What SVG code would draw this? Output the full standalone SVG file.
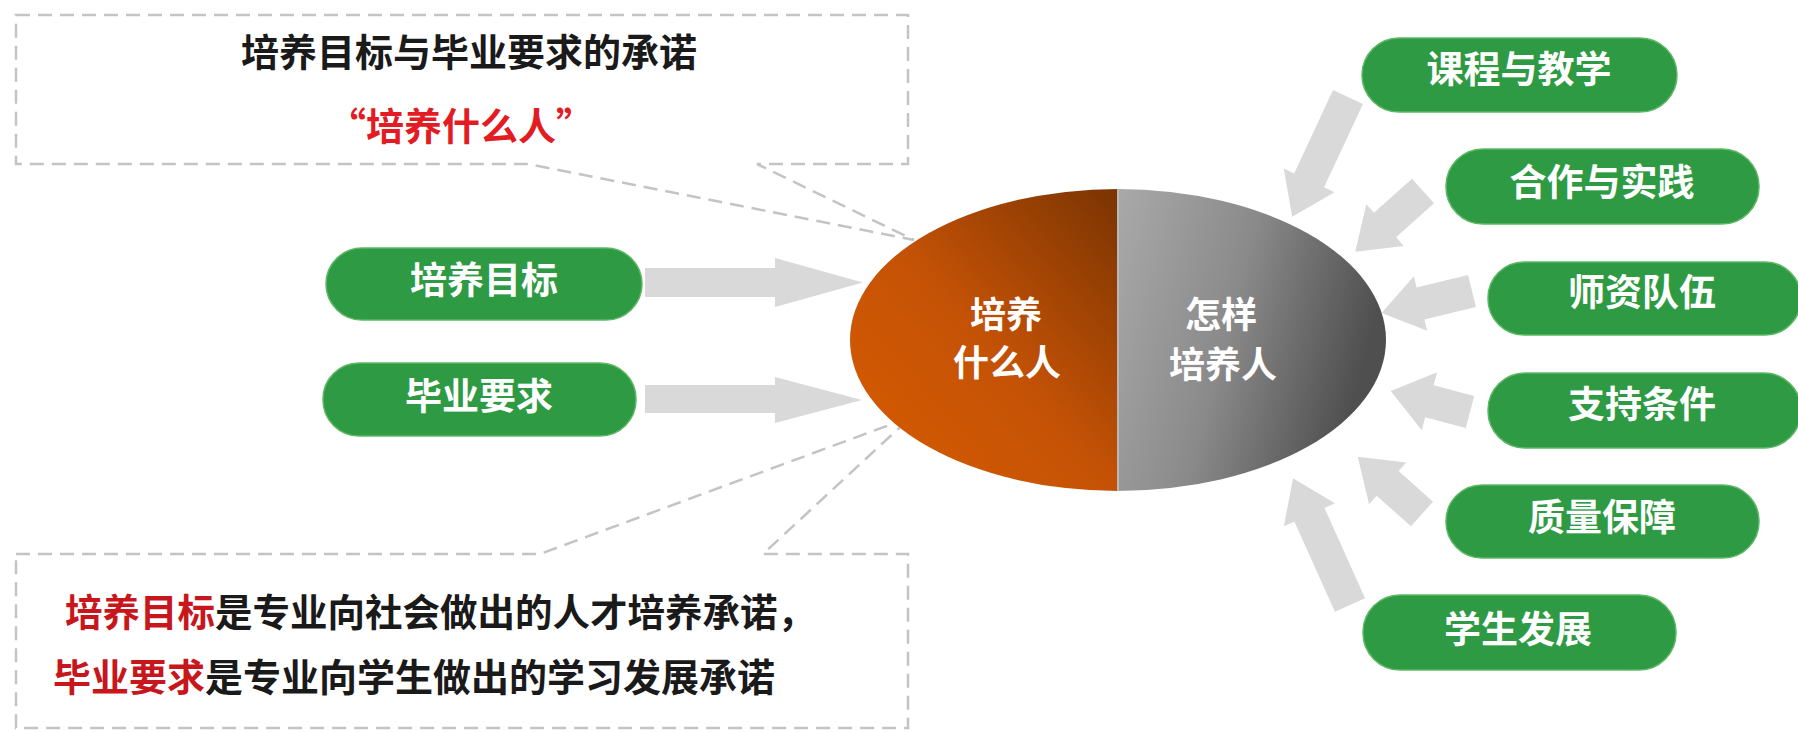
<svg xmlns="http://www.w3.org/2000/svg" width="1798" height="732" viewBox="0 0 1798 732">
<defs>
<linearGradient id="gOrange" x1="0" y1="1" x2="1" y2="0">
<stop offset="0" stop-color="#d85c00"/>
<stop offset="0.5" stop-color="#c45206"/>
<stop offset="1" stop-color="#7a3402"/>
</linearGradient>
<linearGradient id="gGray" x1="0" y1="0" x2="1" y2="0.3">
<stop offset="0" stop-color="#a9a9a9"/>
<stop offset="0.5" stop-color="#8a8a8a"/>
<stop offset="1" stop-color="#4f4f4f"/>
</linearGradient>
<style>
text{font-family:"Noto Sans CJK SC","Noto Sans",sans-serif;font-weight:700}
.pill{fill:#2f9a44;stroke:#5db865;stroke-width:1.5}
.pt{fill:#ffffff;font-size:37px;text-anchor:middle}
.et{fill:#ffffff;font-size:36px;text-anchor:middle}
.arrow{fill:#d9d9d9}
.callout{fill:#ffffff;stroke:#c4c4c4;stroke-width:2.5;stroke-dasharray:14 8}
.blk{fill:#1a1a1a}
</style>
</defs>
<rect width="1798" height="732" fill="#ffffff"/>

<g id="callout-top">
<path class="callout" d="M16,15 H908 V164 H757 L914,240 L528,164 H16 Z"/>
<text class="blk" x="469" y="66" font-size="38" text-anchor="middle">培养目标与毕业要求的承诺</text>
<text x="461" y="140" font-size="38" text-anchor="middle" fill="#e31b23">“培养什么人”</text>
</g>

<g id="callout-bottom">
<path class="callout" d="M16,554 H540 L911,417 L763,554 H908 V728 H16 Z"/>
<text x="65" y="626" font-size="37.5"><tspan fill="#c8161d">培养目标</tspan><tspan fill="#1a1a1a">是专业向社会做出的人才培养承诺，</tspan></text>
<text x="53" y="691" font-size="38"><tspan fill="#c8161d">毕业要求</tspan><tspan fill="#1a1a1a">是专业向学生做出的学习发展承诺</tspan></text>
</g>

<g id="connectors">
<path class="arrow" d="M645,268 H775 V258 L863,282.5 L775,307 V297 H645 Z"/>
<path class="arrow" d="M645,385 H775 V377 L862,400 L775,423 V413 H645 Z"/>
<path class="arrow" transform="translate(1348,97) rotate(115)" d="M0,-16.5 H92 V-28 L132,0 L92,28 V16.5 H0 Z"/>
<path class="arrow" transform="translate(1423,191) rotate(138.1)" d="M0,-16.5 H51 V-28 L91,0 L51,28 V16.5 H0 Z"/>
<path class="arrow" transform="translate(1472,291) rotate(166.3)" d="M0,-16.5 H53 V-28 L93,0 L53,28 V16.5 H0 Z"/>
<path class="arrow" transform="translate(1470,412) rotate(194.9)" d="M0,-16.5 H42 V-30 L82,0 L42,30 V16.5 H0 Z"/>
<path class="arrow" transform="translate(1422,514) rotate(221.7)" d="M0,-16.5 H46 V-28 L86,0 L46,28 V16.5 H0 Z"/>
<path class="arrow" transform="translate(1350,605) rotate(245.8)" d="M0,-16.5 H99 V-28 L139,0 L99,28 V16.5 H0 Z"/>
</g>

<g id="center">
<path d="M1118,189 A268,151 0 0 0 1118,491 Z" fill="url(#gOrange)"/>
<path d="M1118,189 A268,151 0 0 1 1118,491 Z" fill="url(#gGray)"/>
<line x1="1118" y1="189" x2="1118" y2="491" stroke="#b8b8b8" stroke-width="2"/>
<text class="et"><tspan x="1006" y="328">培养</tspan><tspan x="1007" y="376">什么人</tspan></text>
<text class="et"><tspan x="1221" y="328">怎样</tspan><tspan x="1223" y="378">培养人</tspan></text>
</g>

<g id="node-peiyangmubiao">
<rect class="pill" x="326" y="248" width="316" height="72" rx="36"/>
<text class="pt" x="484" y="294">培养目标</text>
</g>
<g id="node-biyeyaoqiu">
<rect class="pill" x="323" y="363" width="313" height="73" rx="36"/>
<text class="pt" x="479" y="410">毕业要求</text>
</g>
<g id="node-kecheng">
<rect class="pill" x="1362" y="38" width="315" height="74" rx="37"/>
<text class="pt" x="1519" y="83">课程与教学</text>
</g>
<g id="node-hezuo">
<rect class="pill" x="1446" y="149" width="313" height="75" rx="37"/>
<text class="pt" x="1602" y="196">合作与实践</text>
</g>
<g id="node-shizi">
<rect class="pill" x="1488" y="262" width="313" height="73" rx="36"/>
<text class="pt" x="1642" y="306">师资队伍</text>
</g>
<g id="node-zhichi">
<rect class="pill" x="1488" y="373" width="313" height="75" rx="37"/>
<text class="pt" x="1642" y="418">支持条件</text>
</g>
<g id="node-zhiliang">
<rect class="pill" x="1446" y="485" width="313" height="73" rx="36"/>
<text class="pt" x="1602" y="531">质量保障</text>
</g>
<g id="node-xuesheng">
<rect class="pill" x="1363" y="595" width="313" height="75" rx="37"/>
<text class="pt" x="1518" y="643">学生发展</text>
</g>
</svg>
